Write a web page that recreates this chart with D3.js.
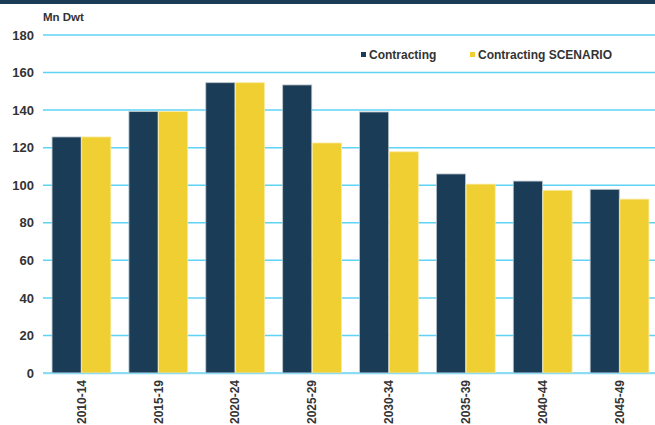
<!DOCTYPE html>
<html>
<head>
<meta charset="utf-8">
<style>
  body { margin: 0; background: #fff; }
  svg { display: block; font-family: "Liberation Sans", Arial, sans-serif; }
  .tick text { font-weight: bold; fill: #333; }
</style>
</head>
<body>
<script src="https://cdn.jsdelivr.net/npm/d3@7"></script>
<script>
// data
var periods = ["2010-14", "2015-19", "2020-24", "2025-29", "2030-34", "2035-39", "2040-44", "2045-49"];
var contracting = [125.7, 139.2, 154.6, 153.4, 139, 106, 102.2, 97.8];
var scenario = [125.7, 139.2, 154.6, 122.5, 117.8, 100.6, 97.3, 92.6];
var seriesNames = ["Contracting", "Contracting SCENARIO"];
var yTicks = [0, 20, 40, 60, 80, 100, 120, 140, 160, 180];

var colors = { "Contracting": "#1b3c57", "Contracting SCENARIO": "#f0cf33" };

var W = 655, H = 425;
var svg = d3.select("body").append("svg").attr("width", W).attr("height", H);

// dark strip at the very top
svg.append("rect").attr("x", 0).attr("y", 0).attr("width", W).attr("height", 4)
  .attr("fill", "#1b3c57");

var x0 = d3.scaleBand().domain(periods).range([43, 658])
  .paddingInner(0.22).paddingOuter(0.11);
var x1 = d3.scaleBand().domain(seriesNames).range([0, x0.bandwidth()]).padding(0.02);
var y = d3.scaleLinear().domain([0, 180]).range([373, 35]);

// gridlines
svg.append("g").selectAll("line").data(yTicks).join("line")
  .attr("x1", 43).attr("x2", W)
  .attr("y1", function(d) { return y(d); }).attr("y2", function(d) { return y(d); })
  .attr("stroke", "#5fd3f3").attr("stroke-width", 1.5);

// y axis labels
var yAxis = svg.append("g").attr("transform", "translate(43,0)")
  .call(d3.axisLeft(y).tickValues(yTicks).tickSize(0).tickPadding(9));
yAxis.select(".domain").remove();
yAxis.selectAll("text").style("font-size", "13px");

svg.append("text").attr("x", 43).attr("y", 21)
  .style("font-size", "11.5px").style("font-weight", "bold").attr("fill", "#333")
  .text("Mn Dwt");

// bars
var rows = periods.map(function(p, i) {
  return { period: p, values: [
    { name: "Contracting", v: contracting[i] },
    { name: "Contracting SCENARIO", v: scenario[i] }
  ] };
});

var groups = svg.append("g").selectAll("g").data(rows).join("g")
  .attr("transform", function(d) { return "translate(" + x0(d.period) + ",0)"; });

groups.selectAll("rect").data(function(d) { return d.values; }).join("rect")
  .attr("x", function(d) { return x1(d.name); })
  .attr("width", x1.bandwidth())
  .attr("y", function(d) { return y(d.v); })
  .attr("height", function(d) { return y(0) - y(d.v); })
  .attr("fill", function(d) { return colors[d.name]; })
  .attr("stroke", function(d) { return d.name == "Contracting" ? "#b9c4cc" : "#faeaa0"; })
  .attr("stroke-width", 0.8);

// baseline
svg.append("line").attr("x1", 43).attr("x2", W).attr("y1", y(0) + 0.5).attr("y2", y(0) + 0.5)
  .attr("stroke", "#8fdcf2").attr("stroke-width", 1.5);

// x axis labels, rotated
var xAxis = svg.append("g").attr("transform", "translate(0," + y(0) + ")")
  .call(d3.axisBottom(x0).tickSize(0));
xAxis.select(".domain").remove();
xAxis.selectAll("text")
  .style("font-size", "12px")
  .attr("transform", "rotate(-90)")
  .attr("text-anchor", "end")
  .attr("x", -7).attr("y", 0).attr("dy", "0.35em");

// legend
var legend = svg.append("g").selectAll("g").data(seriesNames).join("g")
  .attr("transform", function(d, i) { return "translate(" + [361, 470][i] + ",55)"; });
legend.append("rect").attr("x", 0).attr("y", -3).attr("width", 5).attr("height", 5)
  .attr("fill", function(d) { return colors[d]; });
legend.append("text").attr("x", 8).attr("y", 0).attr("dy", "0.35em")
  .style("font-size", "12px").style("font-weight", "bold").attr("fill", "#333")
  .text(function(d) { return d; });
</script>
</body>
</html>
